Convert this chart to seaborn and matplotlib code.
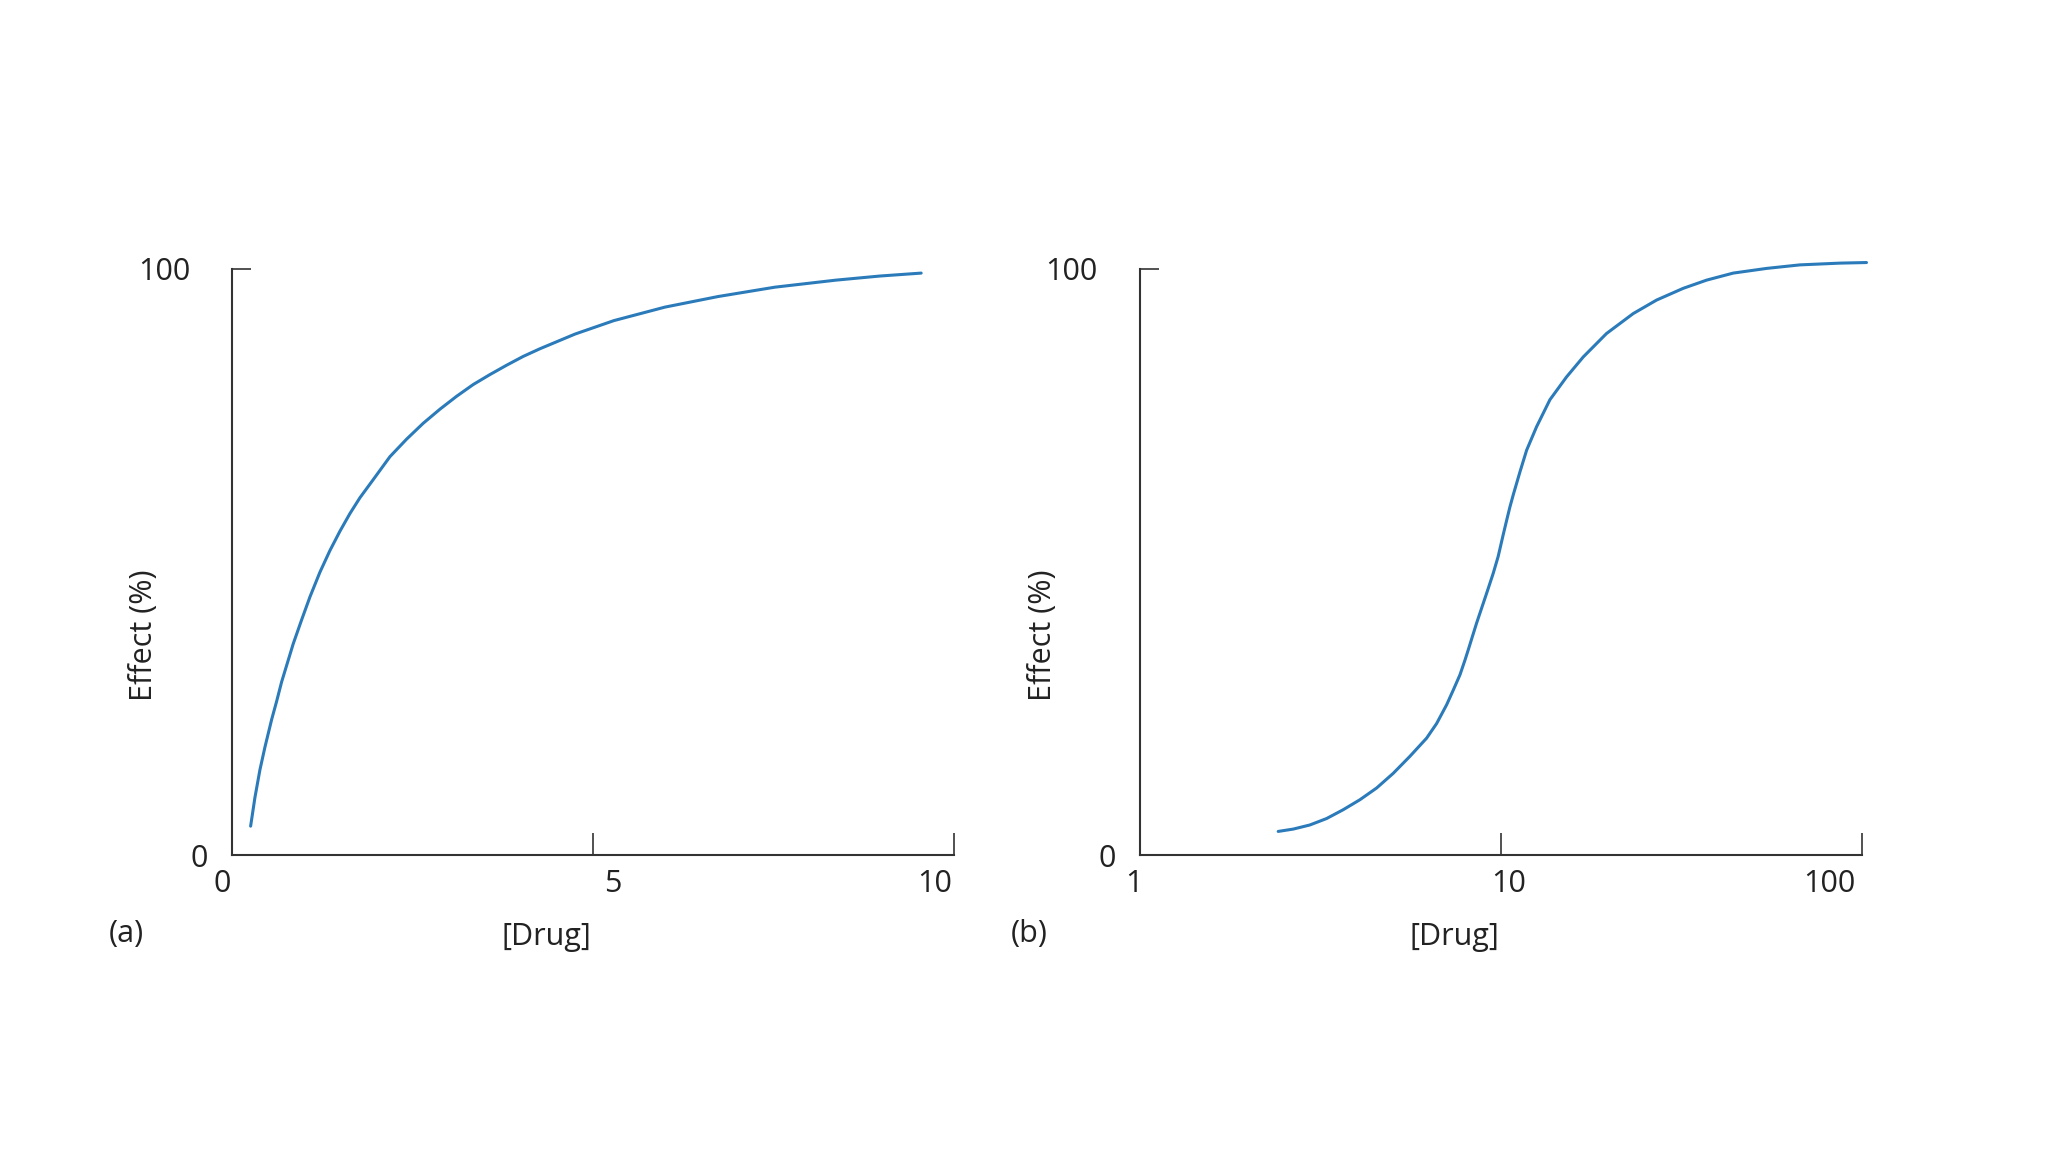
import matplotlib
matplotlib.use("Agg")
import matplotlib.pyplot as plt
from matplotlib.transforms import ScaledTranslation
from matplotlib.ticker import NullLocator
import seaborn as sns

# Panel (a): effect vs drug concentration (linear scale)
drug_a = [0.252, 0.312, 0.381, 0.451, 0.544, 0.613, 0.682, 0.843, 0.960, 1.075,
          1.213, 1.352, 1.491, 1.629, 1.768, 1.953, 2.184, 2.416, 2.646, 2.878,
          3.109, 3.339, 3.571, 3.803, 4.033, 4.264, 4.750, 5.290, 5.998, 6.733,
          7.523, 8.369, 8.979, 9.551]
effect_a = [5.0, 9.9, 14.6, 18.5, 23.2, 26.3, 29.6, 36.1, 40.2, 44.1,
            48.3, 52.0, 55.3, 58.3, 61.0, 64.1, 68.0, 71.0, 73.7, 76.1,
            78.3, 80.3, 82.0, 83.6, 85.1, 86.4, 88.9, 91.2, 93.5, 95.3,
            96.9, 98.1, 98.8, 99.3]

# Panel (b): effect vs drug concentration (log scale)
drug_b = [2.414, 2.657, 2.954, 3.287, 3.653, 4.063, 4.520, 5.024, 5.588, 6.216,
          6.627, 7.064, 7.368, 7.689, 7.938, 8.101, 8.547, 9.113, 9.504, 9.811,
          10.13, 10.35, 10.57, 10.80, 11.27, 11.76, 12.53, 13.64, 15.17, 16.87,
          19.57, 23.20, 26.92, 31.90, 37.03, 43.87, 54.29, 67.09, 86.60, 102.6]
effect_b = [4.1, 4.5, 5.2, 6.3, 7.8, 9.5, 11.5, 14.0, 16.9, 20.0,
            22.5, 25.7, 28.2, 30.8, 33.3, 35.0, 39.6, 44.7, 48.1, 51.0,
            54.7, 57.1, 59.4, 61.5, 65.4, 69.1, 73.1, 77.7, 81.6, 85.0,
            89.0, 92.4, 94.7, 96.7, 98.1, 99.3, 100.1, 100.7, 101.0, 101.1]

xticks_a = [0, 5, 10]
xticklabels_a = ["0", "5", "10"]
xticks_b = [1, 10, 100]
xticklabels_b = ["1", "10", "100"]
yticks = [0, 100]
yticklabels = ["0", "100"]

LINE_COLOR = "#2b7bba"
AXIS_COLOR = "#333333"
TEXT_COLOR = "#222222"
FS = 22

sns.set_style("white")
plt.rcParams["font.family"] = ["Open Sans", "DejaVu Sans"]
plt.rcParams["text.color"] = TEXT_COLOR

fig = plt.figure(figsize=(20.48, 11.52), dpi=100)
ax_a = fig.add_axes([0.1135, 0.2574, 0.3521, 0.5091])
ax_b = fig.add_axes([0.5566, 0.2574, 0.3528, 0.5091])


def style_axis(ax, xticks, xticklabels, x_offsets, y_offsets, ylab_x):
    for side in ["top", "right"]:
        ax.spines[side].set_visible(False)
    for side in ["left", "bottom"]:
        ax.spines[side].set_color(AXIS_COLOR)
        ax.spines[side].set_linewidth(1.5)
    ax.set_ylim(0, 100)
    ax.set_xticks(xticks)
    ax.set_xticklabels(xticklabels)
    ax.set_yticks(yticks)
    ax.set_yticklabels(yticklabels)
    ax.xaxis.set_minor_locator(NullLocator())
    ax.yaxis.set_minor_locator(NullLocator())
    ax.tick_params(axis="x", bottom=True, direction="in", length=16, width=1.2,
                   color=AXIS_COLOR, labelsize=FS, labelcolor=TEXT_COLOR, pad=10)
    ax.tick_params(axis="y", left=True, direction="in", length=14, width=1.2,
                   color=AXIS_COLOR, labelsize=FS, labelcolor=TEXT_COLOR, pad=24)
    # nudge labels the way the printed figure places them
    for lab, dx in zip(ax.get_xticklabels(), x_offsets):
        lab.set_transform(lab.get_transform() + ScaledTranslation(dx / 100, 0, fig.dpi_scale_trans))
    for lab, dx in zip(ax.get_yticklabels(), y_offsets):
        lab.set_transform(lab.get_transform() + ScaledTranslation(dx / 100, 0, fig.dpi_scale_trans))
    ax.set_xlabel("[Drug]", fontsize=FS, color=TEXT_COLOR)
    ax.xaxis.set_label_coords(0.435, -0.114)
    ax.set_ylabel("Effect (%)", fontsize=FS, color=TEXT_COLOR)
    ax.yaxis.set_label_coords(ylab_x, 0.375)
    ax.grid(False)


# (a) hyperbolic curve
sns.lineplot(x=drug_a, y=effect_a, ax=ax_a, color=LINE_COLOR, linewidth=2.2,
             sort=False, estimator=None)
ax_a.set_xlim(0, 10)
style_axis(ax_a, xticks_a, xticklabels_a, [-10, 20, -19], [9, -9], -0.1015)

# (b) sigmoid curve on log axis
sns.lineplot(x=drug_b, y=effect_b, ax=ax_b, color=LINE_COLOR, linewidth=2.2,
             sort=False, estimator=None)
ax_b.lines[0].set_clip_on(False)
ax_b.set_xscale("log")
ax_b.set_xlim(1, 100)
style_axis(ax_b, xticks_b, xticklabels_b, [-6, 7, -33], [9, -9], -0.1135)

fig.text(126.7 / 2048, 1 - 934 / 1152, "(a)", fontsize=FS, ha="center", va="center")
fig.text(1029 / 2048, 1 - 934 / 1152, "(b)", fontsize=FS, ha="center", va="center")

fig.savefig("out.png", dpi=100, facecolor="white")
